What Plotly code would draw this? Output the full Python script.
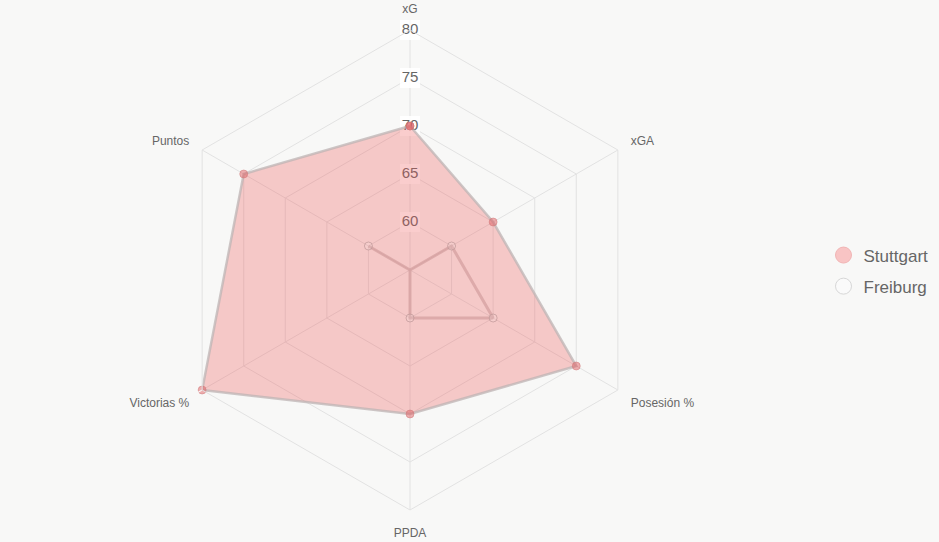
import plotly.graph_objects as go

categories = ["xG", "xGA", "Posesión %", "PPDA", "Victorias %", "Puntos"]
stuttgart = [70, 65, 75, 70, 80, 75]
freiburg = [55, 60, 65, 60, 55, 60]
tick_vals = [60, 65, 70, 75, 80]
tick_text = ["60", "65", "70", "75", "80"]

bg = "#f8f8f7"
fig = go.Figure()

# radial tick labels with white backdrop (drawn beneath the data, as in the reference)
fig.add_trace(go.Scatterpolar(
    r=tick_vals, theta=[categories[0]] * len(tick_vals),
    mode="markers+text", text=tick_text, textposition="middle center",
    textfont=dict(family="Liberation Sans, Arial", size=15, color="#666666"),
    marker=dict(symbol="square", size=20, color="rgba(255,255,255,0.9)", line=dict(width=0)),
    showlegend=False, hoverinfo="skip", cliponaxis=False,
))

closed = lambda v: v + v[:1]
theta_c = closed(categories)

fig.add_trace(go.Scatterpolar(
    r=closed(stuttgart), theta=theta_c, mode="lines+markers", fill="toself",
    fillcolor="rgba(240,90,90,0.3)",
    line=dict(color="rgba(190,180,180,0.75)", width=2.5),
    marker=dict(size=8, color="rgba(225,95,100,0.5)", line=dict(color="rgba(205,120,120,0.5)", width=1)),
    name="Stuttgart", showlegend=False,
))
fig.add_trace(go.Scatterpolar(
    r=closed(freiburg), theta=theta_c, mode="lines+markers", fill="toself",
    fillcolor="rgba(255,255,255,0.03)",
    line=dict(color="rgba(205,150,150,0.6)", width=3),
    marker=dict(size=8, color="rgba(255,255,255,0.1)", line=dict(color="rgba(190,150,150,0.7)", width=1)),
    name="Freiburg", showlegend=False,
))

# legend entries
fig.add_trace(go.Scatterpolar(
    r=[None], theta=[categories[0]], mode="markers", name="Stuttgart", legendgroup="s",
    marker=dict(size=16, color="rgba(248,196,196,1)", line=dict(color="rgba(240,180,180,1)", width=1)),
))
fig.add_trace(go.Scatterpolar(
    r=[None], theta=[categories[0]], mode="markers", name="Freiburg", legendgroup="f",
    marker=dict(size=16, color="rgba(250,250,250,1)", line=dict(color="rgba(215,215,215,1)", width=1)),
))

fig.update_layout(
    width=939, height=542,
    margin=dict(l=0, r=0, t=0, b=0),
    paper_bgcolor=bg, plot_bgcolor=bg,
    font=dict(family="Liberation Sans, Arial", color="#666666"),
    polar=dict(
        bgcolor=bg,
        domain=dict(x=[170 / 939, 650 / 939], y=[32 / 542, 512 / 542]),
        gridshape="linear",
        radialaxis=dict(
            range=[55, 80], tickvals=tick_vals, showticklabels=False,
            showline=False, ticks="", gridcolor="#e2e2e2", gridwidth=1,
        ),
        angularaxis=dict(
            direction="clockwise", rotation=90,
            showline=True, linecolor="#e2e2e2", linewidth=1,
            gridcolor="#e2e2e2", ticks="outside", ticklen=12, tickcolor=bg,
            tickfont=dict(size=12, color="#666666"),
        ),
    ),
    legend=dict(
        x=0.877, y=0.5, xanchor="left", yanchor="middle",
        font=dict(size=17, color="#666666"),
        bgcolor="rgba(0,0,0,0)", itemsizing="trace", itemwidth=30,
        tracegroupgap=6,
    ),
)

fig.write_html("out.html")
